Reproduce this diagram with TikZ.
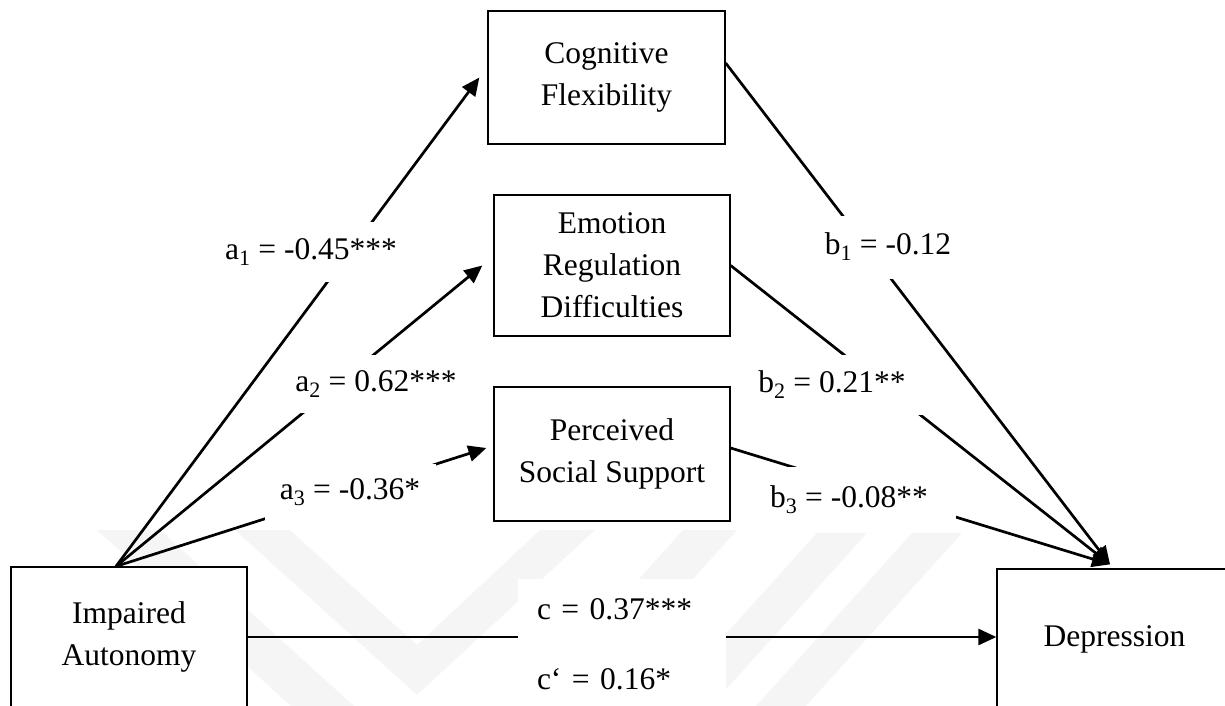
\documentclass[tikz,border=0pt]{standalone}
\usepackage{fontspec}
\setmainfont{Liberation Serif}
\usetikzlibrary{arrows.meta,calc}
\begin{document}
\begin{tikzpicture}[x=1pt,y=-1pt,
  box/.style={draw=black, line width=1.3pt, fill=white, align=center, inner sep=0pt, font=\fontsize{31.5}{42}\selectfont},
  lbl/.style={fill=white, inner sep=0pt, font=\fontsize{31.5}{42}\selectfont},
  arr/.style={line width=2.7pt, -{Triangle[length=18pt,width=16pt]}},
  wm/.style={fill=black!4, draw=none}]
\useasboundingbox (0,0) rectangle (1225,706);
% faint watermark
\fill[wm] (97,530) -- (160,530) -- (354,706) -- (291,706) -- cycle;
\fill[wm] (235,530) -- (290,530) -- (417,645) -- (540,530) -- (595,530) -- (417,695) -- cycle;
\fill[wm] (683,530) -- (737,530) -- (579,706) -- (525,706) -- cycle;
\fill[wm] (817,533) -- (867,533) -- (711,706) -- (661,706) -- cycle;
\fill[wm] (912,533) -- (962,533) -- (806,706) -- (756,706) -- cycle;
% boxes
\node[box, minimum width=237pt, minimum height=133pt] (CF) at (606.5,77.5) {Cognitive\\Flexibility};
\node[box, minimum width=236pt, minimum height=141pt] (ER) at (612,265.5) {Emotion\\Regulation\\Difficulties};
\node[box, minimum width=236pt, minimum height=134pt] (PS) at (612,454) {Perceived\\Social Support};
\node[box, minimum width=236pt, minimum height=140pt] (IA) at (129,637) {Impaired\\Autonomy};
\node[box, minimum width=235pt, minimum height=140pt] (DP) at (1114.5,639) {Depression};
\coordinate (cl) at (0,637);
% paths
\draw[arr] ($(IA.north)+(-13,0)$) -- ($(CF.west)+(-8,0)$);
\draw[arr] ($(IA.north)+(-13,0)$) -- ($(ER.west)+(-11,0)$);
\draw[arr] ($(IA.north)+(-13,0)$) -- ($(PS.west)+(-7,-6)$);
\draw[arr] ($(CF.east)+(0,-14.5)$) -- ($(DP.north)+(-4.5,-4)$);
\draw[arr] (ER.east) -- ($(DP.north)+(-4.5,-4)$);
\draw[arr] ($(PS.east)+(0,-6)$) -- ($(DP.north)+(-4.5,-4)$);
\draw[arr] (IA.east |- cl) -- (DP.west |- cl);
% labels
\node[lbl, minimum width=190pt, minimum height=60pt] (la1) at (311,252) {a\textsubscript{1} = -0.45***};
\node[lbl, minimum width=180pt, minimum height=58pt] (la2) at (376,384) {a\textsubscript{2} = 0.62***};
\node[lbl, minimum width=171pt, minimum height=57pt] (la3) at (350,492) {a\textsubscript{3} = -0.36*};
\node[lbl, minimum width=150pt, minimum height=63pt] (lb1) at (888,247) {b\textsubscript{1} = -0.12};
\node[lbl, minimum width=180pt, minimum height=60pt] (lb2) at (838,385) {b\textsubscript{2} = 0.21**\hspace*{12pt}};
\node[lbl, minimum width=192pt, minimum height=66pt] (lb3) at (860,500) {b\textsubscript{3} = -0.08**\hspace*{22pt}};
\node[lbl, text width=170pt, align=left, inner xsep=19pt, minimum height=130pt] (lc) at (622,644) {c = 0.37***\\[28pt]c‘ = 0.16*};
\end{tikzpicture}
\end{document}
